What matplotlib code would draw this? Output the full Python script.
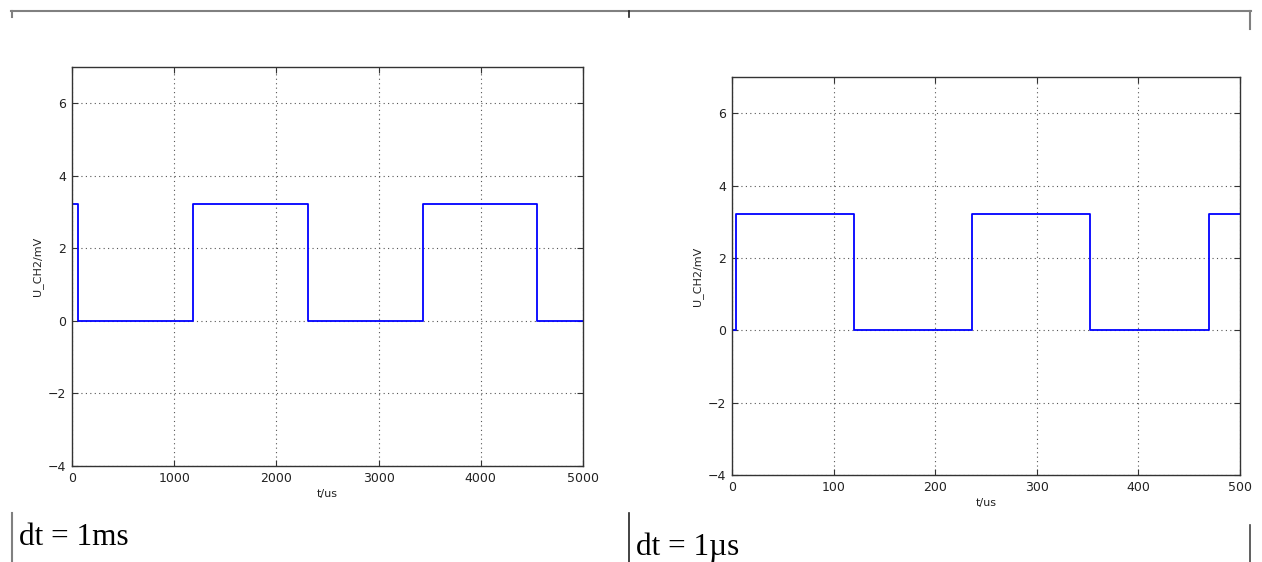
import matplotlib
matplotlib.use("Agg")
import matplotlib.pyplot as plt
from matplotlib.lines import Line2D

# ---- data ----
left_edges = [0, 59, 1184, 2309, 3434, 4550, 5000]
left_levels = [3.22, 0.01, 3.22, 0.01, 3.22, 0.01]
right_edges = [0, 4, 120, 236, 352, 469, 500]
right_levels = [0.0, 3.21, 0.02, 3.21, 0.02, 3.2]
left_xticks = [0, 1000, 2000, 3000, 4000, 5000]
right_xticks = [0, 100, 200, 300, 400, 500]
yticks = [-4, -2, 0, 2, 4, 6]
captions = ["dt = 1ms", "dt = 1\u00b5s"]
xlabel = "t/us"
ylabel = "U_CH2/mV"

W, H = 1262, 562
fig = plt.figure(figsize=(W / 100, H / 100), dpi=100)


def make_axes(rect, edges, levels, xmax, xticks):
    ax = fig.add_axes(rect)
    xs = list(edges)
    ys = list(levels) + [levels[-1]]
    ax.plot(xs, ys, drawstyle="steps-post", color="#0000ff", lw=1.3)
    ax.set_xlim(0, xmax)
    ax.set_ylim(-4, 7)
    ax.set_xticks(xticks)
    ax.set_yticks(yticks)
    ax.grid(True, linestyle=(0, (1, 3)), color="#555555", lw=0.8)
    ax.tick_params(direction="in", top=True, right=True, length=4,
                   labelsize=9, width=0.8, pad=4, labelcolor="#222222",
                   color="#333333")
    for s in ax.spines.values():
        s.set_linewidth(1.0)
        s.set_color("#333333")
    ax.set_xlabel(xlabel, fontsize=8, labelpad=3, color="#222222")
    ax.set_ylabel(ylabel, fontsize=8, labelpad=4, color="#222222")
    return ax


make_axes([72 / W, 1 - 466 / H, (583 - 72) / W, (466 - 67) / H],
          left_edges, left_levels, 5000, left_xticks)
make_axes([732 / W, 1 - 475 / H, (1240 - 732) / W, (475 - 77) / H],
          right_edges, right_levels, 500, right_xticks)


def px_line(x0, y0, x1, y1, color="#808080", lw=1.5):
    fig.add_artist(Line2D([x0 / W, x1 / W], [1 - y0 / H, 1 - y1 / H],
                          transform=fig.transFigure, color=color, lw=lw))


# table borders
px_line(11, 11, 1251, 11)
px_line(12, 11, 12, 17)
px_line(629, 11, 629, 17, color="#222222", lw=1.2)
px_line(1250, 11, 1250, 29)
px_line(12, 513, 12, 562)
px_line(629, 513, 629, 562, color="#222222", lw=1.2)
px_line(1250, 525, 1250, 562, color="#444444", lw=1.2)

fig.text(19 / W, 1 - 545 / H, captions[0], fontsize=22.5,
         family="Liberation Serif", ha="left", va="baseline")
fig.text(636 / W, 1 - 555 / H, captions[1], fontsize=22.5,
         family="Liberation Serif", ha="left", va="baseline")

fig.savefig("out.png", dpi=100)
